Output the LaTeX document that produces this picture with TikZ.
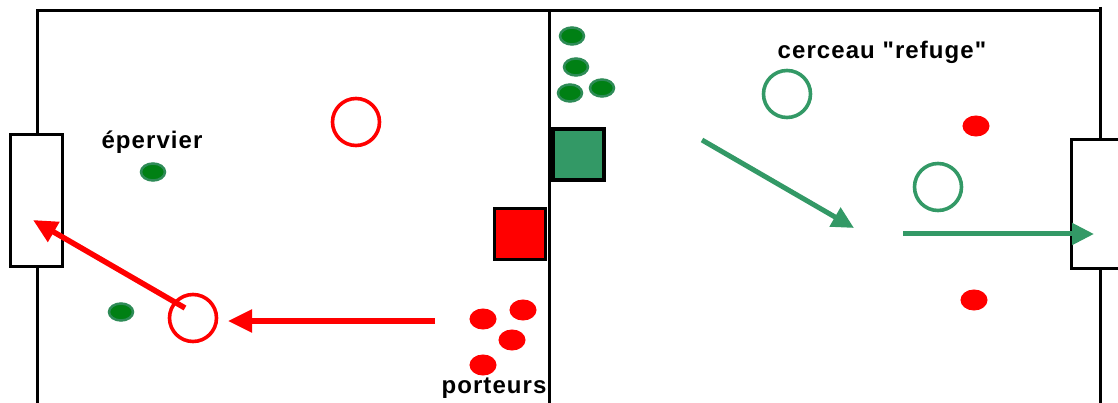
\documentclass[tikz,border=0pt]{standalone}
\usepackage{fontspec}
\setmainfont{Liberation Sans}[Ligatures=TeXOff]
\newfontfamily\lblfont{Liberation Sans}[Ligatures=TeXOff,LetterSpace=4.5]
\usetikzlibrary{arrows.meta,shapes.geometric}
\definecolor{fgreen}{RGB}{51,153,102}
\definecolor{dgreen}{RGB}{0,128,20}
\definecolor{egreen}{RGB}{46,139,87}
\definecolor{fred}{RGB}{255,0,0}
\tikzset{
  field/.style={line width=3pt, black},
  goalbox/.style={draw=black, fill=white, line width=3pt},
  hoop/.style={circle, draw, line width=3.6pt, minimum size=47pt, inner sep=0pt},
  greendot/.style={ellipse, fill=dgreen, draw=egreen, line width=2.5pt, minimum width=24pt, minimum height=17pt, inner sep=0pt},
  reddot/.style={ellipse, fill=fred, draw=fred, line width=1pt, minimum width=26pt, minimum height=20pt, inner sep=0pt},
  redarrow/.style={draw=fred, line width=5.5pt, -{Triangle[length=24pt,width=22pt]}},
  greenarrow/.style={draw=fgreen, line width=5pt, -{Triangle[length=22pt,width=21pt]}},
  lbl/.style={font=\lblfont\fontsize{24}{28}\selectfont\bfseries, inner sep=0pt},
  sq/.style={draw=black, line width=3.2pt, minimum size=51pt, inner sep=0pt}
}
\begin{document}
\begin{tikzpicture}[x=1pt,y=-1pt]
\useasboundingbox (0,0) rectangle (1118,403);
\clip (0,0) rectangle (1118,403);
% field lines
\draw[field] (37,410) -- (37,11) -- (1100,11);
\draw[field] (1100,7) -- (1100,410);
\draw[field] (549,11) -- (549,410);
% goals
\node[goalbox, minimum width=52pt, minimum height=131pt, inner sep=0pt] (goalL) at (36,200.5) {};
\node[goalbox, minimum width=60pt, minimum height=128pt, inner sep=0pt] (goalR) at (1101,204) {};
% squares
\node[sq, fill=fred] (redsq) at (520,234) {};
\node[sq, fill=fgreen] (greensq) at (578.5,154.5) {};
% hoops
\node[hoop, draw=fred] (hoopR1) at (356,122) {};
\node[hoop, draw=fred] (hoopR2) at (193,318) {};
\node[hoop, draw=fgreen] (hoopG1) at (787,94) {};
\node[hoop, draw=fgreen] (hoopG2) at (938,187) {};
% green dots
\node[greendot] (e1) at (153,172) {};
\node[greendot] (e2) at (121,312) {};
\node[greendot] (g1) at (572,36) {};
\node[greendot] (g2) at (576,67) {};
\node[greendot] (g3) at (570,93) {};
\node[greendot] (g4) at (602,88) {};
% red dots
\node[reddot] (r1) at (483,319) {};
\node[reddot] (r2) at (523,310) {};
\node[reddot] (r3) at (512,340) {};
\node[reddot] (r4) at (483,365) {};
\node[reddot] (r5) at (976,126) {};
\node[reddot] (r6) at (974,300) {};
% labels
\node[lbl] (lep) at (152,142) {épervier};
\node[lbl] (lpo) at (494,388) {porteurs};
\node[lbl] (lce) at (882,52) {cerceau "refuge"};
% arrows
\coordinate (a1s) at (185,308);
\coordinate (a1e) at (33,220);
\coordinate (a2s) at (435,321);
\coordinate (a2e) at (228,321);
\coordinate (a3s) at (702,140);
\coordinate (a3e) at (854,228);
\coordinate (a4s) at (903,234);
\coordinate (a4e) at (1094,234);
\draw[redarrow] (a1s) -- (a1e);
\draw[redarrow] (a2s) -- (a2e);
\draw[greenarrow] (a3s) -- (a3e);
\draw[greenarrow] (a4s) -- (a4e);
\end{tikzpicture}
\end{document}
